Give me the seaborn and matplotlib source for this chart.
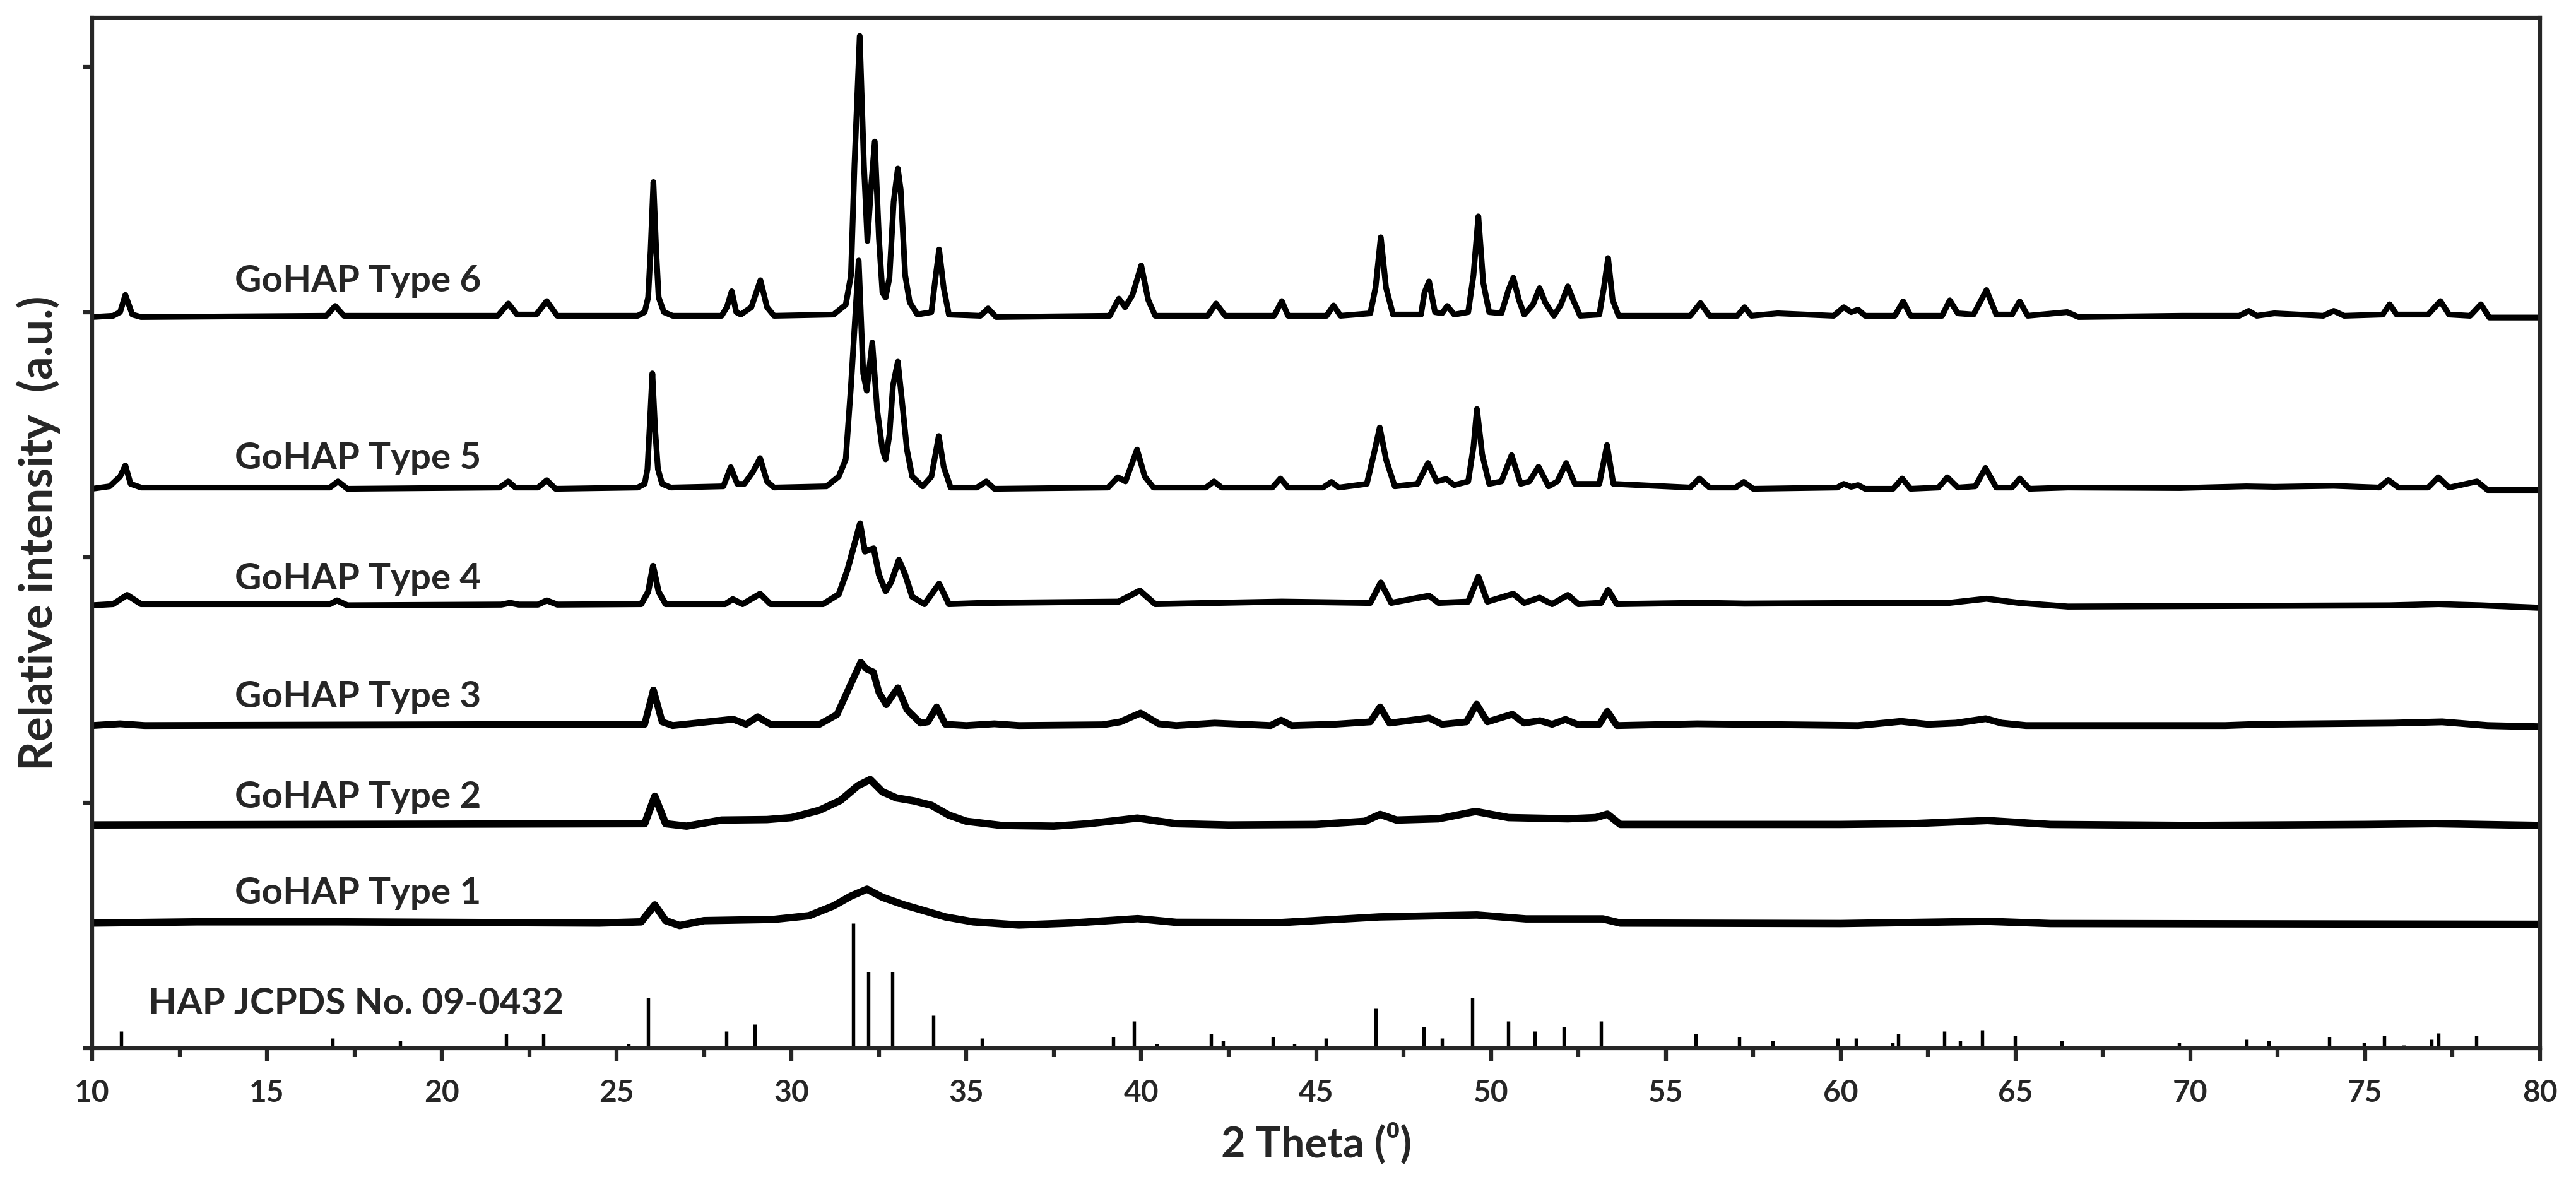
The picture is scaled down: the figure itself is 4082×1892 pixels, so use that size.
import numpy as np
import pandas as pd
from matplotlib import pyplot as plt
import seaborn as sns

# XRD patterns: (2theta, stacked intensity) vertices
type6_points = [
    (10.0, 2.98), (10.6, 2.985), (10.8, 3.0), (10.95, 3.07), (11.15, 2.99), (11.4, 2.98),
    (16.7, 2.985), (16.95, 3.025), (17.2, 2.985), (21.6, 2.985), (21.9, 3.035), (22.15, 2.99),
    (22.7, 2.99), (23.0, 3.045), (23.3, 2.985), (25.6, 2.985), (25.8, 3.0), (25.9, 3.06),
    (25.97, 3.25), (26.05, 3.53), (26.13, 3.25), (26.2, 3.06), (26.35, 3.0), (26.6, 2.985),
    (28.0, 2.985), (28.15, 3.02),
    (28.29, 3.085), (28.42, 3.0), (28.55, 2.99), (28.85, 3.02), (29.11, 3.13), (29.3, 3.02),
    (29.5, 2.985), (31.2, 2.99), (31.55, 3.03), (31.7, 3.15), (31.8, 3.6), (31.95, 4.125),
    (32.07, 3.6), (32.17, 3.29), (32.27, 3.5), (32.38, 3.695), (32.5, 3.3), (32.6, 3.08),
    (32.69, 3.06), (32.8, 3.14), (32.92, 3.45), (33.04, 3.585), (33.12, 3.5), (33.25, 3.15),
    (33.38, 3.04), (33.6, 2.99), (34.0, 3.0), (34.1, 3.12), (34.22, 3.255), (34.35, 3.1),
    (34.5, 2.99), (35.4, 2.985), (35.62, 3.015), (35.85, 2.98), (39.1, 2.985), (39.36, 3.055),
    (39.54, 3.02), (39.75, 3.07), (40.0, 3.19), (40.2, 3.05), (40.4, 2.985), (41.9, 2.985),
    (42.14, 3.035), (42.4, 2.985), (43.8, 2.985), (44.02, 3.045), (44.2, 2.985), (45.3, 2.985),
    (45.5, 3.027), (45.7, 2.985), (46.55, 2.995), (46.7, 3.1), (46.85, 3.305), (47.0, 3.1),
    (47.2, 2.99), (48.0, 2.99), (48.1, 3.08), (48.23, 3.125), (48.4, 3.0), (48.6, 2.995),
    (48.75, 3.025), (48.95, 2.99), (49.35, 3.0), (49.5, 3.15), (49.64, 3.39), (49.78, 3.12),
    (49.95, 3.0), (50.3, 2.995), (50.5, 3.09), (50.64, 3.14), (50.8, 3.05), (50.95, 2.99),
    (51.2, 3.03), (51.39, 3.098), (51.55, 3.04), (51.8, 2.985), (52.0, 3.03), (52.2, 3.105),
    (52.35, 3.05), (52.55, 2.985), (53.1, 2.99), (53.23, 3.1), (53.35, 3.22), (53.48, 3.05),
    (53.65, 2.985), (55.7, 2.985), (55.99, 3.037), (56.25, 2.985), (57.05, 2.985), (57.25, 3.02),
    (57.45, 2.985), (58.2, 2.995), (59.8, 2.985), (60.09, 3.02), (60.3, 3.0), (60.5, 3.01),
    (60.7, 2.985), (61.55, 2.985), (61.79, 3.044), (62.0, 2.985), (62.9, 2.985), (63.12, 3.048),
    (63.35, 2.995), (63.8, 2.99), (64.17, 3.09), (64.45, 2.99), (64.9, 2.99), (65.12, 3.044),
    (65.35, 2.985), (66.48, 3.0), (66.8, 2.98), (69.77, 2.985), (71.4, 2.985), (71.67, 3.005),
    (71.9, 2.985), (72.4, 2.995), (73.8, 2.985), (74.1, 3.005), (74.4, 2.985), (75.5, 2.99),
    (75.7, 3.032), (75.9, 2.99), (76.8, 2.99), (77.15, 3.045), (77.4, 2.99), (78.0, 2.985),
    (78.31, 3.032), (78.55, 2.978), (80.0, 2.978),
]
type5_points = [
    (10.0, 2.28), (10.5, 2.29), (10.8, 2.33), (10.95, 2.375), (11.1, 2.3), (11.4, 2.285),
    (16.8, 2.285), (17.03, 2.31), (17.3, 2.28), (21.65, 2.285), (21.9, 2.31), (22.1, 2.285),
    (22.75, 2.285), (23.0, 2.315), (23.25, 2.28), (25.6, 2.285), (25.8, 2.3), (25.88, 2.36),
    (25.95, 2.55), (26.02, 2.75), (26.1, 2.52), (26.18, 2.36), (26.3, 2.3), (26.55, 2.285),
    (28.05, 2.29), (28.26, 2.368),
    (28.45, 2.3), (28.65, 2.3), (28.9, 2.35), (29.1, 2.405), (29.3, 2.31), (29.5, 2.285),
    (31.0, 2.29), (31.35, 2.33), (31.55, 2.4), (31.7, 2.7), (31.92, 3.21), (32.05, 2.75),
    (32.15, 2.68), (32.31, 2.876), (32.45, 2.6), (32.6, 2.44), (32.69, 2.4), (32.8, 2.5),
    (32.9, 2.7), (33.04, 2.798), (33.15, 2.65), (33.3, 2.44), (33.45, 2.33), (33.75, 2.29),
    (34.0, 2.33), (34.21, 2.495), (34.35, 2.37), (34.55, 2.285), (35.3, 2.285), (35.57, 2.31),
    (35.8, 2.28), (39.05, 2.285), (39.33, 2.327), (39.55, 2.31), (39.88, 2.44), (40.1, 2.33),
    (40.35, 2.285), (41.85, 2.285), (42.08, 2.31), (42.3, 2.285), (43.75, 2.285), (43.98, 2.322),
    (44.2, 2.285), (45.2, 2.285), (45.44, 2.308), (45.65, 2.285), (46.45, 2.3), (46.65, 2.42),
    (46.82, 2.53), (47.0, 2.4), (47.25, 2.29), (47.9, 2.3), (48.2, 2.385), (48.45, 2.31),
    (48.72, 2.32), (48.95, 2.295), (49.35, 2.31), (49.5, 2.45), (49.6, 2.605), (49.75, 2.42),
    (49.95, 2.3), (50.3, 2.31), (50.59, 2.417), (50.85, 2.3), (51.1, 2.31), (51.36, 2.37),
    (51.65, 2.29), (51.9, 2.31), (52.15, 2.385), (52.4, 2.3), (53.1, 2.3), (53.32, 2.458),
    (53.5, 2.3), (55.7, 2.285), (55.96, 2.322), (56.25, 2.285), (57.0, 2.285), (57.23, 2.308),
    (57.5, 2.28), (59.9, 2.285), (60.09, 2.3), (60.3, 2.288), (60.5, 2.295), (60.7, 2.28),
    (61.5, 2.28), (61.76, 2.322), (62.0, 2.28),
    (62.8, 2.285), (63.05, 2.327), (63.35, 2.285), (63.85, 2.29), (64.14, 2.365), (64.45, 2.285),
    (64.9, 2.285), (65.12, 2.322), (65.4, 2.28), (66.5, 2.285), (69.7, 2.283), (71.6, 2.29),
    (72.4, 2.288), (74.1, 2.292), (75.4, 2.285), (75.66, 2.316), (75.95, 2.285), (76.8, 2.285),
    (77.09, 2.327), (77.4, 2.285), (78.2, 2.31), (78.5, 2.275), (80.0, 2.275),
]
type4_points = [
    (10.0, 1.805), (10.6, 1.81), (11.0, 1.847), (11.4, 1.81), (16.8, 1.81), (17.0, 1.825),
    (17.3, 1.805), (21.7, 1.808), (21.95, 1.815), (22.2, 1.808), (22.75, 1.808), (23.0, 1.825),
    (23.3, 1.808), (25.7, 1.81), (25.9, 1.86), (26.04, 1.966),
    (26.2, 1.86), (26.4, 1.81), (28.1, 1.81), (28.32, 1.83), (28.6, 1.81), (29.1, 1.852),
    (29.4, 1.81), (30.9, 1.81), (31.35, 1.85), (31.6, 1.95), (31.96, 2.139), (32.1, 2.024),
    (32.2, 2.03), (32.35, 2.037), (32.5, 1.93), (32.69, 1.863), (32.85, 1.9), (33.07, 1.99),
    (33.25, 1.93), (33.45, 1.84), (33.8, 1.81), (34.22, 1.893), (34.5, 1.81), (35.57, 1.815),
    (39.35, 1.82), (39.96, 1.865), (40.4, 1.81), (42.14, 1.815), (44.02, 1.82), (46.55, 1.815),
    (46.85, 1.898), (47.15, 1.815), (48.23, 1.844), (48.5, 1.815), (49.35, 1.82), (49.64, 1.922),
    (49.9, 1.82), (50.64, 1.852), (50.95, 1.815), (51.39, 1.836), (51.75, 1.81), (52.2, 1.847),
    (52.5, 1.81), (53.15, 1.815), (53.35, 1.868), (53.6, 1.81), (56.0, 1.815), (57.25, 1.812),
    (61.76, 1.815), (63.1, 1.815), (64.17, 1.832), (65.1, 1.815), (66.5, 1.8), (75.7, 1.805),
    (77.1, 1.81), (78.3, 1.805), (80.0, 1.795),
]
type3_points = [
    (10.0, 1.315), (10.8, 1.322), (11.5, 1.315), (25.8, 1.32), (26.05, 1.46), (26.3, 1.33),
    (26.6, 1.315), (28.33, 1.341), (28.7, 1.32), (29.03, 1.351), (29.4, 1.32), (30.8, 1.32),
    (31.3, 1.36), (31.65, 1.47), (31.98, 1.573), (32.15, 1.545), (32.34, 1.533), (32.5, 1.45),
    (32.71, 1.4), (32.85, 1.43), (33.04, 1.469), (33.3, 1.38), (33.69, 1.325), (33.9, 1.33),
    (34.15, 1.391), (34.4, 1.32), (35.0, 1.315), (35.8, 1.322), (36.5, 1.315), (38.9, 1.318),
    (39.4, 1.33), (39.98, 1.366), (40.5, 1.322), (41.0, 1.315), (42.1, 1.325), (43.7, 1.315),
    (44.0, 1.337), (44.3, 1.315), (45.5, 1.32), (46.55, 1.33), (46.83, 1.391), (47.1, 1.325),
    (48.23, 1.346), (48.6, 1.32), (49.3, 1.33), (49.59, 1.402), (49.9, 1.33), (50.61, 1.361),
    (50.95, 1.325), (51.4, 1.335), (51.75, 1.32), (52.13, 1.34), (52.5, 1.318), (53.1, 1.32),
    (53.33, 1.373), (53.6, 1.315), (55.9, 1.322), (60.5, 1.315), (61.73, 1.332), (62.5, 1.32),
    (63.3, 1.325), (64.15, 1.343), (64.6, 1.325), (65.3, 1.315), (71.0, 1.315), (72.0, 1.32),
    (75.8, 1.325), (77.2, 1.33), (78.5, 1.315), (80.0, 1.31),
]
type2_points = [
    (10.0, 0.91), (25.8, 0.915), (26.09, 1.027), (26.4, 0.915), (27.0, 0.905), (28.0, 0.93),
    (29.3, 0.932), (30.0, 0.94), (30.8, 0.97), (31.4, 1.01), (31.9, 1.07), (32.25, 1.095),
    (32.6, 1.045), (33.0, 1.02), (33.5, 1.008), (34.0, 0.99), (34.5, 0.95), (35.0, 0.925),
    (36.0, 0.908), (37.5, 0.905), (38.5, 0.915), (39.89, 0.938), (41.0, 0.915), (42.5, 0.91),
    (45.0, 0.912), (46.4, 0.925), (46.83, 0.953), (47.3, 0.93), (48.5, 0.935), (49.56, 0.965),
    (50.5, 0.94), (52.2, 0.935), (53.0, 0.94), (53.33, 0.954), (53.7, 0.912), (56.0, 0.912),
    (60.0, 0.912), (62.0, 0.915), (64.2, 0.928), (66.0, 0.912), (70.0, 0.908), (75.0, 0.912),
    (77.0, 0.915), (80.0, 0.908),
]
type1_points = [
    (10.0, 0.51), (13.0, 0.515), (17.0, 0.515), (24.5, 0.51), (25.7, 0.515), (26.09, 0.584),
    (26.4, 0.52), (26.8, 0.5), (27.5, 0.52), (29.5, 0.525), (30.5, 0.54), (31.2, 0.58),
    (31.7, 0.62), (32.16, 0.648), (32.6, 0.615), (33.2, 0.585), (33.8, 0.56), (34.4, 0.535),
    (35.2, 0.515), (36.5, 0.502), (38.0, 0.51), (39.9, 0.528), (41.0, 0.513), (44.0, 0.512),
    (46.8, 0.535), (49.6, 0.543), (51.0, 0.527), (53.2, 0.527), (53.7, 0.51), (60.0, 0.508),
    (64.2, 0.517), (66.0, 0.508), (80.0, 0.505),
]

# HAP JCPDS No. 09-0432 reference lines
stick_pos = [10.83, 16.87, 18.8, 21.83, 22.9, 25.34, 25.9, 28.14, 28.95, 31.77, 32.2, 32.89,
             34.05, 35.45, 39.19, 39.8, 40.44, 42.0, 42.33, 43.76, 44.37, 45.28, 46.7, 48.08,
             48.6, 49.46, 50.5, 51.26, 52.08, 53.14, 55.86, 57.1, 58.06, 59.91, 60.43, 61.48,
             61.64, 62.96, 63.41, 64.04, 64.98, 66.33, 69.67, 71.6, 72.24, 73.97, 74.97, 75.54,
             76.1, 76.9, 77.1, 78.18]
stick_height = [0.069, 0.04, 0.03, 0.059, 0.059, 0.018, 0.206, 0.069, 0.098, 0.509, 0.31, 0.31,
                0.133, 0.04, 0.046, 0.11, 0.019, 0.059, 0.03, 0.046, 0.018, 0.04, 0.162, 0.087,
                0.04, 0.207, 0.11, 0.069, 0.087, 0.11, 0.059, 0.046, 0.03, 0.04, 0.04, 0.023,
                0.059, 0.069, 0.03, 0.075, 0.052, 0.03, 0.023, 0.035, 0.03, 0.046, 0.023, 0.052,
                0.013, 0.035, 0.063, 0.052]

trace_names = ["GoHAP Type 6", "GoHAP Type 5", "GoHAP Type 4",
               "GoHAP Type 3", "GoHAP Type 2", "GoHAP Type 1"]
label_y = [3.085, 2.36, 1.87, 1.39, 0.98, 0.59]
label_x = 17.6
ref_label = "HAP JCPDS No. 09-0432"
ref_label_y = 0.14

sns.set_style("ticks")
plt.rcParams['font.family'] = ['Lato', 'DejaVu Sans']
plt.rcParams['font.weight'] = 'bold'

fig = plt.figure(figsize=(4082 / 300, 1892 / 300), dpi=300)
ax = fig.add_axes([146 / 4082, 1 - 1661 / 1892, (4025 - 146) / 4082, (1661 - 28) / 1892])

all_traces = [type6_points, type5_points, type4_points, type3_points, type2_points, type1_points]
widths = [2.2, 2.2, 2.3, 2.6, 2.8, 2.8]
for pts, lw in zip(all_traces, widths):
    df = pd.DataFrame(pts, columns=['two_theta', 'intensity'])
    sns.lineplot(data=df, x='two_theta', y='intensity', ax=ax, color='black',
                 linewidth=lw, sort=False, estimator=None)
for l in ax.lines:
    l.set_solid_joinstyle('round')
    l.set_solid_capstyle('round')

ax.vlines(stick_pos, 0, stick_height, color='black', linewidth=1.3)

for name, y in zip(trace_names, label_y):
    ax.text(label_x, y, name, ha='center', va='baseline', fontsize=14, fontweight='bold')
ax.text(17.55, ref_label_y, ref_label, ha='center', va='baseline', fontsize=14, fontweight='bold')

ax.set_xlim(10, 80)
ax.set_ylim(0, 4.2)
ax.set_xticks(np.arange(10, 81, 5))
ax.set_xticks(np.arange(12.5, 80, 5), minor=True)
ax.set_yticks([0, 1, 2, 3, 4])
ax.set_yticklabels([])
ax.tick_params(axis='x', which='major', direction='out', length=4.8, width=1.5, pad=7, labelsize=11.5)
ax.tick_params(axis='x', which='minor', direction='out', length=3.4, width=1.5)
ax.tick_params(axis='y', which='major', direction='out', length=3.4, width=1.5)
for lab in ax.get_xticklabels():
    lab.set_fontweight('bold')
for sp in ax.spines.values():
    sp.set_linewidth(1.5)
    sp.set_visible(True)

ax.set_xlabel("2 Theta (\u2070)", fontsize=16, fontweight='bold', labelpad=6)
ax.set_ylabel("Relative intensity  (a.u.)", fontsize=17.5, fontweight='bold', labelpad=5)

fig.savefig('out.png', dpi=300)
